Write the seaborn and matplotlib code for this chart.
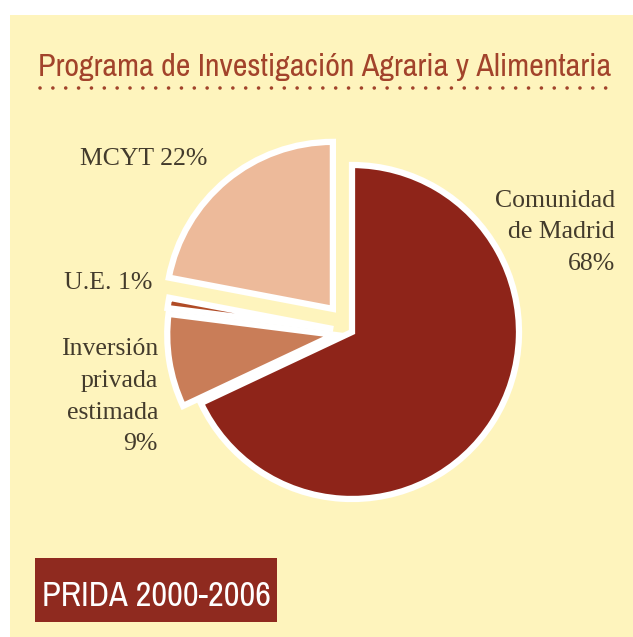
import matplotlib
matplotlib.use("Agg")
import matplotlib.pyplot as plt
from matplotlib.patches import Rectangle
from matplotlib import font_manager
import seaborn as sns

# ---- data ----
categories = ["Comunidad de Madrid", "Inversión privada estimada", "U.E.", "MCYT"]
shares = [68, 9, 1, 22]
label_lines = [["Comunidad", "de Madrid"], ["Inversión", "privada", "estimada"], ["U.E."], ["MCYT"]]
title = "Programa de Investigación Agraria y Alimentaria"
badge = "PRIDA 2000-2006"

sns.set_theme(style="white")
slice_colors = ["#8e2419", "#c97d58", "#b04b26", "#edba9a"]
explode = [0.0, 18, 19, 30]
cream = "#fef4bd"
text_col = "#433b2c"
title_col = "#a2432b"

# pick the most condensed installed sans family
names = sorted({f.name for f in font_manager.fontManager.ttflist})
cond = [n for n in names if "Narrow" in n] + [n for n in names if "Condensed" in n]
narrow = cond[:1] + ["DejaVu Sans"]

W, H = 633, 637
fig = plt.figure(figsize=(W / 100, H / 100), dpi=100, facecolor="white")
ax = fig.add_axes([0, 0, 1, 1])

ax.pie(shares, colors=slice_colors, startangle=90, counterclock=False,
       explode=explode, center=(352, H - 332), radius=167,
       wedgeprops=dict(edgecolor="white", linewidth=4.5), frame=False)
ax.set_xlim(0, W)
ax.set_ylim(0, H)
ax.set_aspect("auto")
ax.axis("off")

# cream panel
ax.add_patch(Rectangle((10, 0), W - 10, H - 15, facecolor=cream, edgecolor="none", zorder=-10))

# title fitted to width
t = ax.text(325, H - 76, title, ha="center", va="baseline", color=title_col,
            family=narrow, fontstretch="condensed", fontweight="bold", fontsize=20)
fig.canvas.draw()
r = fig.canvas.get_renderer()
w = t.get_window_extent(r).width
t.set_fontsize(20 * 574 / w)

# dotted rule
ax.plot([40, 612], [H - 88, H - 88], color=title_col, lw=2.6,
        linestyle=(0, (0.01, 3.55)), dash_capstyle="round", solid_capstyle="round")

# badge
ax.add_patch(Rectangle((35, H - 622), 242, 64, facecolor="#8f2a1f", edgecolor="none"))
b = ax.text(156, H - 606, badge, ha="center", va="baseline", color="white",
            family=narrow, fontstretch="condensed", fontweight="bold", fontsize=30)
fig.canvas.draw()
wb = b.get_window_extent(r).width
b.set_fontsize(30 * 228 / wb)

serif = ["Liberation Serif", "DejaVu Serif"]
fs = 18.5
def lines_label(x, baselines, lines, ha):
    for yb, s in zip(baselines, lines):
        ax.text(x, H - yb, s, ha=ha, va="baseline", color=text_col, family=serif, fontsize=fs)

# Comunidad de Madrid
lines_label(615, [207, 238, 270], label_lines[0] + [f"{shares[0]}%"], "right")
# Inversión
lines_label(158, [355, 387, 419, 450], label_lines[1] + [f"{shares[1]}%"], "right")
# U.E.
lines_label(152, [289], [f"{label_lines[2][0]} {shares[2]}%"], "right")
# MCYT
lines_label(207, [165], [f"{label_lines[3][0]} {shares[3]}%"], "right")

fig.savefig("out.png", dpi=100, facecolor="white")
